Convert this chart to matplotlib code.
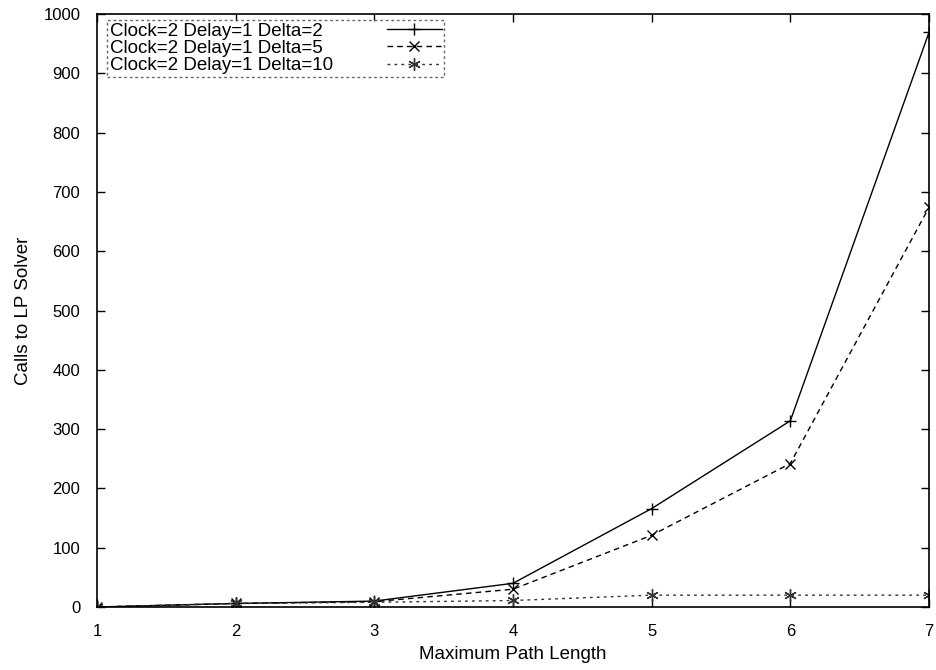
import matplotlib
matplotlib.use("Agg")
import matplotlib.pyplot as plt
from matplotlib.lines import Line2D

plt.rcParams['font.family'] = ['Liberation Sans', 'DejaVu Sans']

# data
path_len = [1, 2, 3, 4, 5, 6, 7]
delta2 = [0, 6, 10, 40, 166, 314, 969]
delta5 = [0, 6, 9, 30, 121, 242, 674]
delta10 = [0, 6, 8, 11, 20, 20, 20]
labels = ["Clock=2 Delay=1 Delta=2",
          "Clock=2 Delay=1 Delta=5",
          "Clock=2 Delay=1 Delta=10"]

asterisk = (6, 2, 0)

fig = plt.figure(figsize=(9.36, 6.70), dpi=100)
ax = fig.add_axes([0.1036, 0.094, 0.8889, 0.885])

l1, = ax.plot(path_len, delta2, color='black', lw=1, marker='+', ms=9, mew=1)
l2, = ax.plot(path_len, delta5, color='black', lw=1, ls=(0, (4, 3)),
              marker='x', ms=7, mew=1)
l3, = ax.plot(path_len, delta10, color='#333333', lw=1, ls=(0, (2, 3)),
              marker=asterisk, ms=9, mew=1)

ax.set_xlim(1, 7)
ax.set_ylim(0, 1000)
ax.set_xticks(range(1, 8))
ax.set_yticks(range(0, 1001, 100))
ax.tick_params(direction='in', length=6, width=1, top=True, right=True,
               labelsize=12, pad=12)
for s in ax.spines.values():
    s.set_linewidth(1.2)

ax.set_xlabel("Maximum Path Length", fontsize=13.5, labelpad=5)
ax.set_ylabel("Calls to LP Solver", fontsize=13.5, labelpad=8)

# gnuplot style key: text left, samples right in their own column
blank = Line2D([], [], linestyle='none')
leg = ax.legend([blank, blank, blank, l1, l2, l3], labels + ['', '', ''],
                ncol=2, loc='upper left', bbox_to_anchor=(0.012, 0.99),
                markerfirst=False, fontsize=13.5, handlelength=2.9,
                handletextpad=0, columnspacing=0, labelspacing=0.0,
                borderpad=0.15, borderaxespad=0, fancybox=False, frameon=True)
leg._legend_handle_box.get_children()[0].align = 'left'
frame = leg.get_frame()
frame.set_edgecolor('#444444')
frame.set_linestyle((0, (2, 2)))
frame.set_linewidth(1)

fig.savefig("out.png", dpi=100)
